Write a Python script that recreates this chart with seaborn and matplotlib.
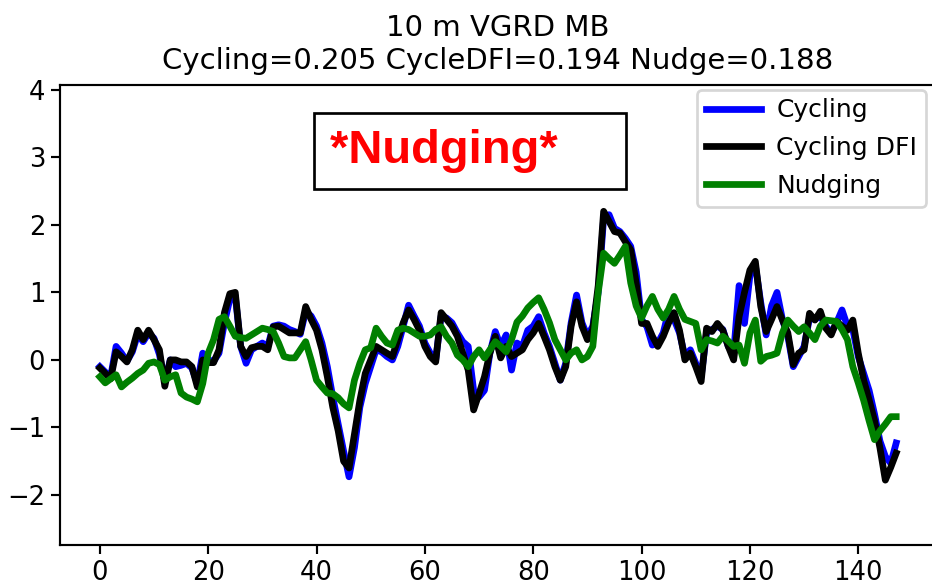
import matplotlib
matplotlib.use("Agg")
import matplotlib.pyplot as plt
import seaborn as sns
import numpy as np

# 10 m VGRD mean bias per forecast time
cycling = [-0.1, -0.18, -0.25, 0.2, 0.1, -0.02, 0.12, 0.38, 0.27, 0.4,
           0.32, 0.08, -0.32, 0.0, -0.1, -0.08, -0.05, -0.12, -0.35, 0.1,
           0.0, -0.02, 0.1, 0.55, 0.9, 0.95, 0.2, -0.05, 0.15, 0.2,
           0.25, 0.2, 0.5, 0.52, 0.5, 0.45, 0.42, 0.38, 0.72, 0.65,
           0.5, 0.25, -0.1, -0.55, -0.95, -1.35, -1.73, -1.3, -0.7, -0.35,
           -0.1, 0.15, 0.12, 0.05, 0.0, 0.2, 0.5, 0.81, 0.65, 0.5,
           0.25, 0.1, 0.0, 0.65, 0.62, 0.55, 0.4, 0.27, 0.2, -0.45,
           -0.55, -0.45, 0.1, 0.42, 0.2, 0.37, -0.15, 0.25, 0.2, 0.44,
           0.5, 0.64, 0.4, 0.2, -0.05, -0.3, -0.05, 0.55, 0.96, 0.55,
           0.35, 0.5, 1.0, 2.1, 2.15, 1.95, 1.9, 1.8, 1.68, 1.3,
           0.6, 0.49, 0.22, 0.25, 0.4, 0.72, 0.6, 0.4, 0.05, 0.15,
           -0.05, -0.25, 0.4, 0.45, 0.5, 0.45, 0.2, 0.1, 1.1, 0.54,
           1.25, 1.4, 0.85, 0.37, 0.8, 1.0, 0.6, 0.35, -0.1, 0.05,
           0.2, 0.62, 0.6, 0.65, 0.5, 0.4, 0.55, 0.74, 0.5, 0.45,
           0.05, -0.2, -0.45, -0.8, -1.2, -1.43, -1.53, -1.23]

cycling_dfi = [-0.12, -0.2, -0.28, 0.12, 0.05, -0.03, 0.15, 0.44, 0.3, 0.44,
               0.3, 0.15, -0.39, 0.0, 0.0, -0.03, -0.03, -0.1, -0.4, 0.0,
               -0.04, -0.04, 0.15, 0.7, 0.98, 1.0, 0.2, 0.05, 0.18, 0.2,
               0.2, 0.15, 0.49, 0.5, 0.45, 0.4, 0.4, 0.4, 0.79, 0.6,
               0.44, 0.15, -0.25, -0.7, -1.05, -1.5, -1.6, -1.1, -0.6, -0.2,
               0.0, 0.2, 0.15, 0.1, 0.05, 0.3, 0.55, 0.74, 0.6, 0.44,
               0.2, 0.05, -0.03, 0.7, 0.6, 0.5, 0.35, 0.1, -0.15, -0.74,
               -0.5, -0.25, 0.1, 0.35, 0.03, 0.2, 0.05, 0.1, 0.15, 0.3,
               0.4, 0.54, 0.35, 0.15, -0.1, -0.3, -0.1, 0.5, 0.86, 0.5,
               0.3, 0.45, 1.1, 2.2, 2.05, 1.9, 1.88, 1.75, 1.63, 1.14,
               0.54, 0.54, 0.35, 0.2, 0.35, 0.55, 0.7, 0.44, 0.0, 0.1,
               -0.1, -0.32, 0.47, 0.42, 0.54, 0.44, 0.2, 0.0, 0.64, 1.0,
               1.33, 1.46, 0.79, 0.42, 0.6, 0.79, 0.59, 0.4, -0.07, 0.1,
               0.15, 0.69, 0.59, 0.72, 0.47, 0.37, 0.57, 0.5, 0.44, 0.59,
               0.1, -0.3, -0.59, -0.9, -1.3, -1.78, -1.59, -1.38]

nudging = [-0.25, -0.34, -0.28, -0.22, -0.4, -0.33, -0.27, -0.2, -0.15, -0.05,
           -0.03, -0.07, -0.3, -0.25, -0.22, -0.49, -0.55, -0.58, -0.62, -0.35,
           0.1, 0.3, 0.6, 0.64, 0.5, 0.35, 0.33, 0.32, 0.37, 0.42,
           0.47, 0.45, 0.42, 0.25, 0.05, 0.03, 0.03, 0.15, 0.27, 0.0,
           -0.3, -0.4, -0.49, -0.5, -0.56, -0.65, -0.71, -0.3, -0.05, 0.15,
           0.18, 0.47, 0.35, 0.25, 0.22, 0.44, 0.47, 0.45, 0.4, 0.35,
           0.35, 0.37, 0.45, 0.49, 0.35, 0.25, 0.07, 0.0, -0.1, 0.05,
           0.15, 0.03, 0.15, 0.27, 0.2, 0.12, 0.3, 0.56, 0.65, 0.77,
           0.85, 0.92, 0.75, 0.55, 0.3, 0.15, 0.0, 0.1, 0.15, 0.0,
           0.05, 0.2, 1.0, 1.58, 1.5, 1.43, 1.55, 1.68, 1.14, 0.8,
           0.62, 0.8, 0.94, 0.75, 0.62, 0.75, 0.94, 0.75, 0.6, 0.57,
           0.54, 0.15, 0.3, 0.28, 0.25, 0.35, 0.28, 0.2, 0.22, -0.05,
           0.4, 0.59, -0.02, 0.05, 0.07, 0.1, 0.4, 0.59, 0.5, 0.42,
           0.49, 0.4, 0.3, 0.5, 0.59, 0.58, 0.57, 0.45, 0.3, -0.1,
           -0.34, -0.6, -0.9, -1.18, -1.05, -0.95, -0.84, -0.84]

scores = {"Cycling": 0.205, "CycleDFI": 0.194, "Nudge": 0.188}

x = np.arange(len(cycling))

W, H = 932, 584
fig = plt.figure(figsize=(W / 194, H / 194), dpi=194)
# right spine falls just outside the picture, as in the original crop
ax = fig.add_axes([60 / W, 1 - 545 / H, 876 / W, 460 / H])

sns.lineplot(x=x, y=cycling, color="b", lw=2.5, label="Cycling", ax=ax)
sns.lineplot(x=x, y=cycling_dfi, color="k", lw=2.5, label="Cycling DFI", ax=ax)
sns.lineplot(x=x, y=nudging, color="g", lw=2.5, label="Nudging", ax=ax)

ax.set_ylim(-2.74, 4.07)
ax.tick_params(labelsize=9.6, pad=2)

sub = " ".join(f"{k}={v:.3f}" for k, v in scores.items())
ax.set_title("10 m VGRD MB\n" + sub, fontsize=10.8)

ax.legend(loc="upper right", bbox_to_anchor=(0.9886, 0.99), borderaxespad=0,
          fontsize=9.3, borderpad=0.35, labelspacing=0.55,
          handlelength=2.2, handletextpad=0.6)

ax.text(0.308, 0.856, "*Nudging*    ", transform=ax.transAxes,
        ha="left", va="center", color="red", fontsize=17.5,
        fontweight="bold", family="Liberation Sans",
        bbox=dict(facecolor="white", edgecolor="black", pad=6))

fig.savefig("out.png", dpi=194)
